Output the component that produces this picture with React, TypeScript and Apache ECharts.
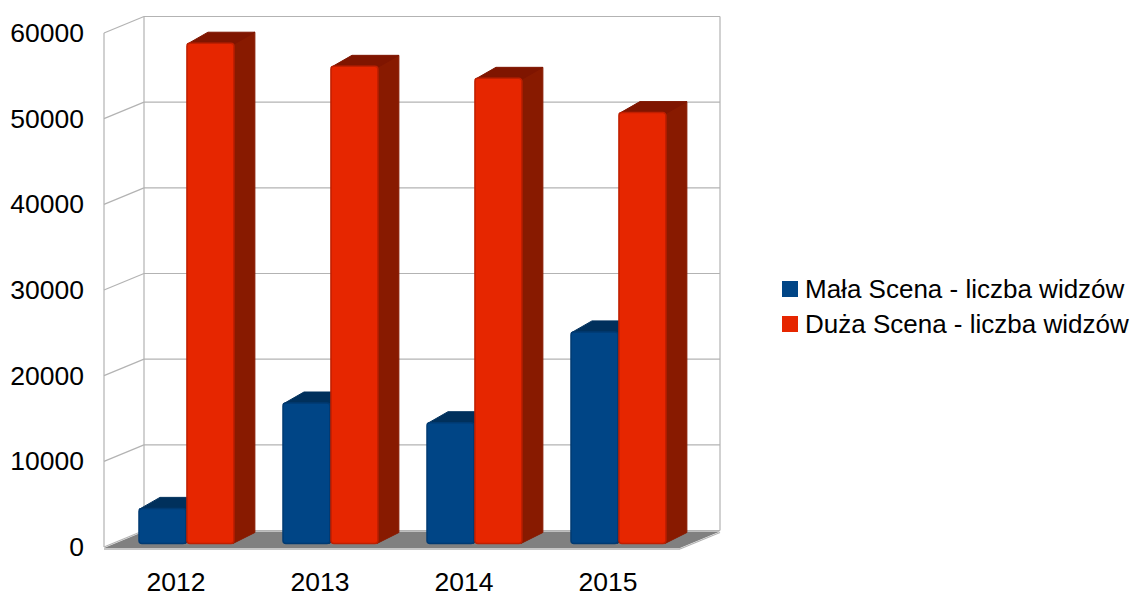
import React, { useEffect, useRef } from "react";
import * as echarts from "echarts";

const categories = ["2012", "2013", "2014", "2015"];
const malaScena = [4100, 16400, 14100, 24700];
const duzaScena = [58400, 55700, 54300, 50300];
const yTicks = [0, 10000, 20000, 30000, 40000, 50000, 60000];
const seriesNames = ["Mała Scena - liczba widzów", "Duża Scena - liczba widzów"];

const FONT = "'Liberation Sans', Arial, sans-serif";

export default function App() {
  const ref = useRef<HTMLDivElement>(null);
  useEffect(() => {
    if (!ref.current) return;
    const chart = echarts.init(ref.current, undefined, { renderer: "svg" });
    const WX = 40;
    const WY = -16.5;
    const BX = 21;
    const BY = -11;
    const SHIFT = -3.5;

    const frameRender = (params: any, api: any) => {
      const cs = params.coordSys;
      const L = cs.x;
      const R = cs.x + cs.width;
      const y0 = api.coord([0, 0])[1];
      const yTop = api.coord([0, yTicks[yTicks.length - 1]])[1];
      const stroke = { stroke: "#b3b3b3", lineWidth: 1.2 };
      const children: any[] = [];
      yTicks.forEach((v) => {
        const y = api.coord([0, v])[1];
        children.push({ type: "line", shape: { x1: L + WX, y1: y + WY, x2: R + WX, y2: y + WY }, style: stroke });
        children.push({ type: "line", shape: { x1: L, y1: y, x2: L + WX, y2: y + WY }, style: stroke });
      });
      children.push({ type: "line", shape: { x1: L, y1: yTop, x2: L, y2: y0 }, style: stroke });
      children.push({ type: "line", shape: { x1: L + WX, y1: yTop + WY, x2: L + WX, y2: y0 + WY }, style: stroke });
      children.push({ type: "line", shape: { x1: R + WX, y1: yTop + WY, x2: R + WX, y2: y0 + WY }, style: stroke });
      children.push({
        type: "polygon",
        shape: { points: [[L, y0 + 1], [R, y0 + 1], [R + WX, y0 + WY + 1], [L + WX, y0 + WY + 1]] },
        style: { fill: "#808080" },
      });
      children.push({ type: "line", shape: { x1: L, y1: y0 + 2, x2: R, y2: y0 + 2 }, style: { stroke: "#b3b3b3", lineWidth: 1.5 } });
      children.push({ type: "line", shape: { x1: R, y1: y0 + 2, x2: R + WX, y2: y0 + WY + 2 }, style: { stroke: "#b3b3b3", lineWidth: 1.2 } });
      return { type: "group", children };
    };

    const makeBarRender = (offsetFrac: number, front: string, frontEdge: string, top: string, side: string) =>
      (params: any, api: any) => {
        const idx = api.value(0);
        const v = api.value(1);
        const p = api.coord([idx, v]);
        const yb = api.coord([idx, 0])[1] + SHIFT;
        const yt = p[1] + SHIFT;
        const band = api.size([1, 0])[0];
        const w = 0.326 * band;
        const xl = p[0] + offsetFrac * band;
        const xr = xl + w;
        return {
          type: "group",
          children: [
            {
              type: "polygon",
              shape: { points: [[xr - 1, yt], [xr + BX, yt + BY], [xr + BX, yb + BY], [xr - 1, yb]] },
              style: { fill: side, stroke: side, lineWidth: 1, lineJoin: "round" },
            },
            {
              type: "polygon",
              shape: { points: [[xl, yt + 1], [xr, yt + 1], [xr + BX, yt + BY], [xl + BX, yt + BY]] },
              style: { fill: top, stroke: top, lineWidth: 1, lineJoin: "round" },
            },
            {
              type: "rect",
              shape: { x: xl, y: yt, width: w, height: yb - yt, r: 3 },
              style: { fill: front, stroke: frontEdge, lineWidth: 1.5 },
            },
          ],
        };
      };

    chart.setOption({
      animation: false,
      textStyle: { fontFamily: FONT },
      grid: { left: 104, top: 33, width: 576, height: 514.5, containLabel: false },
      legend: {
        orient: "vertical",
        left: 777,
        top: 271,
        itemWidth: 16,
        itemHeight: 16,
        itemGap: 9,
        icon: "rect",
        textStyle: { fontSize: 26, color: "#000", fontFamily: FONT, padding: [0, 0, 0, 2] },
        data: seriesNames,
      },
      xAxis: {
        type: "category",
        data: categories,
        axisLine: { show: false },
        axisTick: { show: false },
        axisLabel: { fontSize: 26.5, color: "#000", margin: 21, fontFamily: FONT },
        splitLine: { show: false },
      },
      yAxis: {
        type: "value",
        min: 0,
        max: 60000,
        interval: 10000,
        axisLine: { show: false },
        axisTick: { show: false },
        splitLine: { show: false },
        axisLabel: { fontSize: 26.5, color: "#000", margin: 20, fontFamily: FONT, formatter: (v: number) => String(v) },
      },
      series: [
        {
          type: "custom",
          name: "frame",
          silent: true,
          z: 1,
          renderItem: frameRender,
          data: [[0, 0]],
          encode: { x: 0, y: 1 },
        },
        {
          type: "custom",
          name: seriesNames[0],
          z: 2,
          itemStyle: { color: "#004586" },
          renderItem: makeBarRender(-0.257, "#004586", "#003a72", "#00305c", "#002f5a"),
          data: categories.map((_, i) => [i, malaScena[i]]),
          encode: { x: 0, y: 1 },
        },
        {
          type: "custom",
          name: seriesNames[1],
          z: 3,
          itemStyle: { color: "#e62600" },
          renderItem: makeBarRender(0.076, "#e62600", "#bf1f00", "#7f1500", "#881a00"),
          data: categories.map((_, i) => [i, duzaScena[i]]),
          encode: { x: 0, y: 1 },
        },
      ],
    });
    return () => chart.dispose();
  }, []);
  return <div ref={ref} style={{ position: "absolute", left: 0, top: 0, width: 1138, height: 595 }} />;
}
